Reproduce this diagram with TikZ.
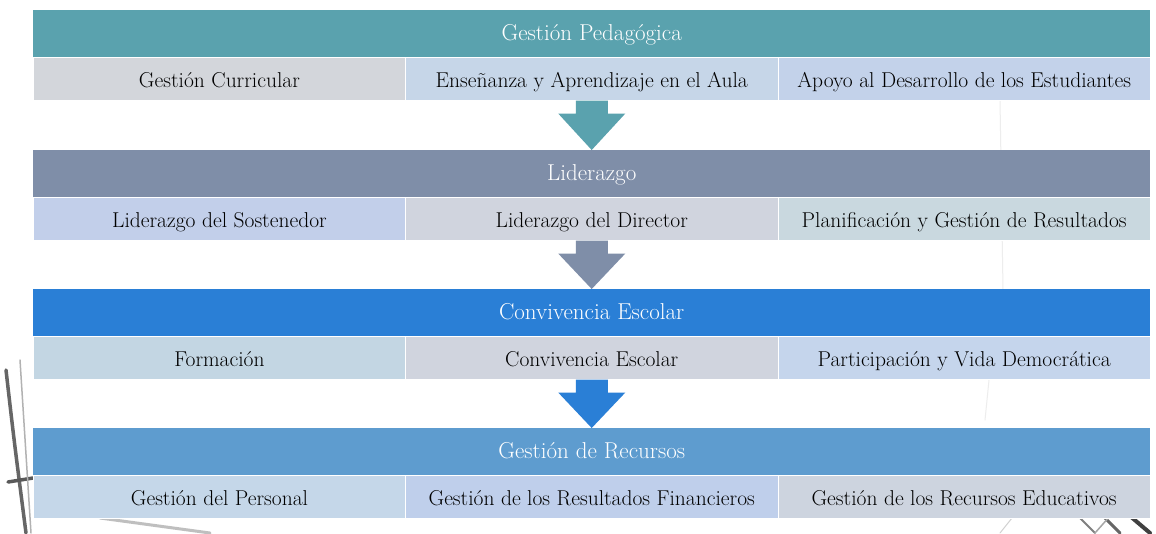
\documentclass[tikz,border=0pt]{standalone}
\usetikzlibrary{calc}
\definecolor{hA}{HTML}{5AA2AE}
\definecolor{hB}{HTML}{7F8EA8}
\definecolor{hC}{HTML}{2A7FD6}
\definecolor{hD}{HTML}{5E9CCF}
\definecolor{cGrey}{HTML}{D3D6DB}
\definecolor{cBlueA}{HTML}{C6D6E8}
\definecolor{cBlueB}{HTML}{C3D2EA}
\definecolor{cLav}{HTML}{C2CFEA}
\definecolor{cGreyB}{HTML}{D0D4DE}
\definecolor{cTealG}{HTML}{C9D8DF}
\definecolor{cBlueC}{HTML}{C3D6E3}
\definecolor{cBlueD}{HTML}{C5D5EC}
\definecolor{cBlueE}{HTML}{C5D7E9}
\definecolor{cBlueF}{HTML}{BFCFEB}
\definecolor{cGreyC}{HTML}{CDD4DF}
\tikzset{
  header/.style={fill=#1, draw=none, minimum width=1117pt, minimum height=47pt,
    inner sep=0pt, anchor=north west, text=white, text height=16pt, text depth=3pt,
    font=\fontsize{23}{25}\selectfont},
  cell/.style={fill=#1, draw=white, line width=0.6pt, minimum width=372.3pt, minimum height=43pt,
    inner sep=0pt, anchor=north west, text=black, text height=18pt, text depth=0.5pt,
    font=\fontsize{21.5}{23}\selectfont},
  blockarrow/.style={fill=#1, draw=none},
  bgstroke/.style={draw=black!#1, line cap=round}
}
\begin{document}
\begin{tikzpicture}[x=1pt,y=-1pt]
\useasboundingbox (0,0) rectangle (1156,533);
\fill[white] (0,0) rectangle (1156,533);
% faint background sketch strokes
\draw[bgstroke=7, line width=1pt] (1000,100) -- (1003,290);
\draw[bgstroke=7, line width=1pt] (990,370) -- (985,420);
\draw[bgstroke=60, line width=3.5pt] (6,370) .. controls (14,440) .. (26,533);
\draw[bgstroke=65, line width=3.5pt] (8,482) -- (33,478);
\draw[bgstroke=30, line width=1.5pt] (20,360) -- (31,533);
\draw[bgstroke=25, line width=3pt] (100,518) -- (210,533);
\draw[bgstroke=50, line width=2pt] (1080,518) -- (1095,533);
\draw[bgstroke=60, line width=3pt] (1105,518) -- (1120,533);
\draw[bgstroke=75, line width=4pt] (1130,516) -- (1150,533);
\draw[bgstroke=35, line width=1.5pt] (1095,533) -- (1110,516);
\draw[bgstroke=18, line width=1pt] (1000,533) -- (1012,518);
% block 1
\node[header=hA] (h1) at (33,10) {Gestión Pedagógica};
\node[cell=cGrey]  (c11) at (33,57)    {Gestión Curricular};
\node[cell=cBlueA] (c12) at (405.3,57) {Enseñanza y Aprendizaje en el Aula};
\node[cell=cBlueB] (c13) at (777.7,57) {Apoyo al Desarrollo de los Estudiantes};
% block 2
\node[header=hB] (h2) at (33,150) {Liderazgo};
\node[cell=cLav]   (c21) at (33,197)    {Liderazgo del Sostenedor};
\node[cell=cGreyB] (c22) at (405.3,197) {Liderazgo del Director};
\node[cell=cTealG] (c23) at (777.7,197) {Planificación y Gestión de Resultados};
% block 3
\node[header=hC] (h3) at (33,289) {Convivencia Escolar};
\node[cell=cBlueC] (c31) at (33,336)    {Formación};
\node[cell=cGreyB] (c32) at (405.3,336) {Convivencia Escolar};
\node[cell=cBlueD] (c33) at (777.7,336) {Participación y Vida Democrática};
% block 4
\node[header=hD] (h4) at (33,428) {Gestión de Recursos};
\node[cell=cBlueE] (c41) at (33,475)    {Gestión del Personal};
\node[cell=cBlueF] (c42) at (405.3,475) {Gestión de los Resultados Financieros};
\node[cell=cGreyC] (c43) at (777.7,475) {Gestión de los Recursos Educativos};
% arrows
\foreach \a/\b/\c in {c12/h2/hA, c22/h3/hB, c32/h4/hC}{
  \fill[blockarrow=\c] ($(\a.south)+(-16,0)$) -- ($(\a.south)+(16,0)$)
    -- ($(\a.south)+(16,13)$) -- ($(\a.south)+(33.5,13)$)
    -- (\b.north) -- ($(\a.south)+(-33.5,13)$) -- ($(\a.south)+(-16,13)$) -- cycle;
}
\end{tikzpicture}
\end{document}
